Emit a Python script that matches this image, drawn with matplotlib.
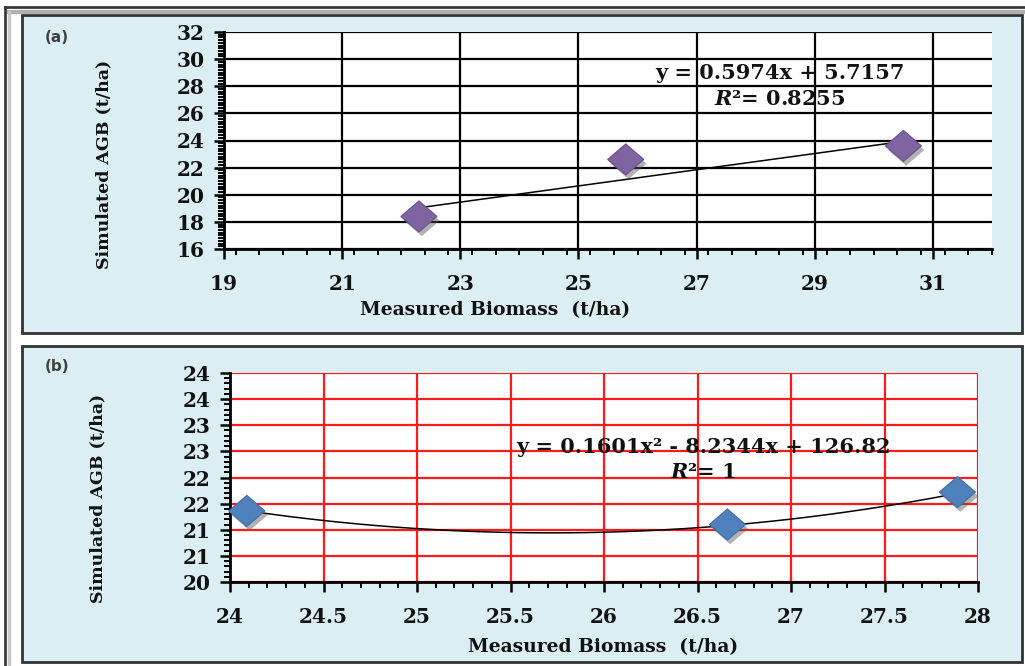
import numpy as np
import matplotlib
matplotlib.use("Agg")
import matplotlib.pyplot as plt
from matplotlib.patches import Rectangle
from matplotlib.lines import Line2D
from matplotlib.path import Path
from matplotlib.ticker import MultipleLocator
import matplotlib.patheffects as pe

plt.rcParams["mathtext.fontset"] = "dejavuserif"

# ---------------- data ----------------
a_measured = [22.3, 25.8, 30.5]
a_simulated = [18.4, 22.6, 23.6]
a_coef = [0.5974, 5.7157]          # linear trendline y = m x + c
a_eq = "y = 0.5974x + 5.7157"
a_r2 = "$\\boldsymbol{R}$\u00b2= 0.8255"

b_measured = [24.09, 26.66, 27.89]
b_simulated = [21.36, 21.10, 21.72]
b_coef = [0.1601, -8.2344, 126.82]  # polynomial trendline
b_eq = "y = 0.1601x\u00b2 - 8.2344x + 126.82"
b_r2 = "$\\boldsymbol{R}$\u00b2= 1"

a_xticks = [19, 21, 23, 25, 27, 29, 31]
a_yticks = [16, 18, 20, 22, 24, 26, 28, 30, 32]
b_xticks = [24, 24.5, 25, 25.5, 26, 26.5, 27, 27.5, 28]
b_xticklabels = ["24", "24.5", "25", "25.5", "26", "26.5", "27", "27.5", "28"]
b_yticks = [20, 20.5, 21, 21.5, 22, 22.5, 23, 23.5, 24]
b_yticklabels = ["20", "21", "21", "22", "22", "23", "23", "24", "24"]

xlabel = "Measured Biomass  (t/ha)"
ylabel = "Simulated AGB (t/ha)"

W, H = 1025, 666
fig = plt.figure(figsize=(W / 100, H / 100), dpi=100)
fig.patch.set_facecolor("white")

def fx(x):
    return x / W

def fy(y):
    return 1 - y / H

def add_rect(x0, y0, x1, y1, **kw):
    r = Rectangle((fx(x0), fy(y1)), fx(x1) - fx(x0), fy(y0) - fy(y1),
                  transform=fig.transFigure, **kw)
    fig.add_artist(r)

def add_line(xs, ys, **kw):
    fig.add_artist(Line2D([fx(v) for v in xs], [fy(v) for v in ys],
                          transform=fig.transFigure, **kw))

# outer frame
add_line([5, 1025], [7, 7], color="#3a3a3a", lw=2)
add_line([9, 1025], [12, 12], color="#b0b0b0", lw=3)
add_line([5, 5], [7, 666], color="#3a3a3a", lw=2)
add_line([9, 9], [12, 666], color="#c8c8c8", lw=2.5)

panel_fill = "#DAEEF3"
add_rect(22, 15, 1022, 333, facecolor=panel_fill, edgecolor="#333333", lw=2, zorder=0)
add_rect(22, 346, 1022, 662, facecolor=panel_fill, edgecolor="#333333", lw=2, zorder=0)

serif = "DejaVu Serif"
diamond = Path([(0, 0.86), (1, 0), (0, -0.86), (-1, 0), (0, 0.86)],
               [Path.MOVETO, Path.LINETO, Path.LINETO, Path.LINETO, Path.CLOSEPOLY])


def style_axes(ax, gridcolor):
    ax.set_facecolor("white")
    for s in ["top", "right"]:
        ax.spines[s].set_visible(False)
    for s in ["left", "bottom"]:
        ax.spines[s].set_color("black")
        ax.spines[s].set_linewidth(2)
        ax.spines[s].set_zorder(4)
    ax.grid(True, which="major", color=gridcolor, lw=1.6, zorder=1)
    ax.set_axisbelow(True)
    ax.tick_params(which="major", direction="out", length=7, width=1.8,
                   color="black", labelsize=14.5)
    ax.tick_params(which="minor", direction="out", length=4, width=1.4, color="black")
    ax.tick_params(axis="x", which="major", pad=11)
    ax.tick_params(axis="y", which="major", pad=7)
    for lab in ax.get_xticklabels() + ax.get_yticklabels():
        lab.set_fontfamily(serif)
        lab.set_fontweight("bold")
        lab.set_color("#111111")


def draw_markers(ax, xs, ys, face, edge):
    ax.plot(xs, ys, linestyle="none", marker=diamond, markersize=26,
            markerfacecolor=face, markeredgecolor=edge, markeredgewidth=0.8,
            zorder=5, clip_on=False,
            path_effects=[pe.SimplePatchShadow(offset=(2, -3), shadow_rgbFace="#555555",
                                               alpha=0.45), pe.Normal()])


# ---------------- panel (a) ----------------
axA = fig.add_axes([fx(224), fy(249), fx(992) - fx(224), fy(32) - fy(249)])
axA.set_xlim(19, 32)
axA.set_ylim(16, 32)
axA.set_xticks(a_xticks)
axA.set_yticks(a_yticks)
axA.set_xticklabels([str(v) for v in a_xticks])
axA.set_yticklabels([str(v) for v in a_yticks])
axA.xaxis.set_minor_locator(MultipleLocator(0.4))
axA.yaxis.set_minor_locator(MultipleLocator(0.2))
style_axes(axA, "black")
xa = np.linspace(min(a_measured), max(a_measured), 50)
axA.plot(xa, np.polyval(a_coef, xa), color="black", lw=1.1, zorder=3)
draw_markers(axA, a_measured, a_simulated, "#8064A2", "#6a5190")
axA.text(28.41, 28.98, a_eq, ha="center", va="center", fontsize=15,
         fontfamily=serif, fontweight="bold", color="#111111", zorder=6)
axA.text(28.41, 27.06, a_r2, ha="center", va="center", fontsize=15,
         fontfamily=serif, fontweight="bold", color="#111111", zorder=6)

fig.text(fx(57), fy(37), "(a)", ha="center", va="center", fontsize=11,
         fontfamily="DejaVu Sans", fontweight="bold", color="#404040")
fig.text(fx(104), fy(164), ylabel, rotation=90, ha="center", va="center",
         fontsize=12.5, fontfamily=serif, fontweight="bold", color="#111111")
fig.text(fx(495), fy(310), xlabel, ha="center", va="center",
         fontsize=13.5, fontfamily=serif, fontweight="bold", color="#111111")

# ---------------- panel (b) ----------------
axB = fig.add_axes([fx(230), fy(582), fx(978) - fx(230), fy(373) - fy(582)])
axB.set_xlim(24, 28)
axB.set_ylim(20, 24)
axB.set_xticks(b_xticks)
axB.set_yticks(b_yticks)
axB.set_xticklabels(b_xticklabels)
axB.set_yticklabels(b_yticklabels)
axB.xaxis.set_minor_locator(MultipleLocator(0.1))
axB.yaxis.set_minor_locator(MultipleLocator(0.1))
style_axes(axB, "#ff1a1a")
xb = np.linspace(min(b_measured), max(b_measured), 80)
axB.plot(xb, np.polyval(b_coef, xb), color="black", lw=1.1, zorder=3)
draw_markers(axB, b_measured, b_simulated, "#4F81BD", "#3f6fa8")
axB.text(26.53, 22.58, b_eq, ha="center", va="center", fontsize=15,
         fontfamily=serif, fontweight="bold", color="#111111", zorder=6)
axB.text(26.53, 22.10, b_r2, ha="center", va="center", fontsize=15,
         fontfamily=serif, fontweight="bold", color="#111111", zorder=6)

fig.text(fx(57), fy(366), "(b)", ha="center", va="center", fontsize=11,
         fontfamily="DejaVu Sans", fontweight="bold", color="#404040")
fig.text(fx(98), fy(498), ylabel, rotation=90, ha="center", va="center",
         fontsize=12.5, fontfamily=serif, fontweight="bold", color="#111111")
fig.text(fx(603), fy(647), xlabel, ha="center", va="center",
         fontsize=13.5, fontfamily=serif, fontweight="bold", color="#111111")

fig.savefig("out.png", dpi=100, facecolor="white")
